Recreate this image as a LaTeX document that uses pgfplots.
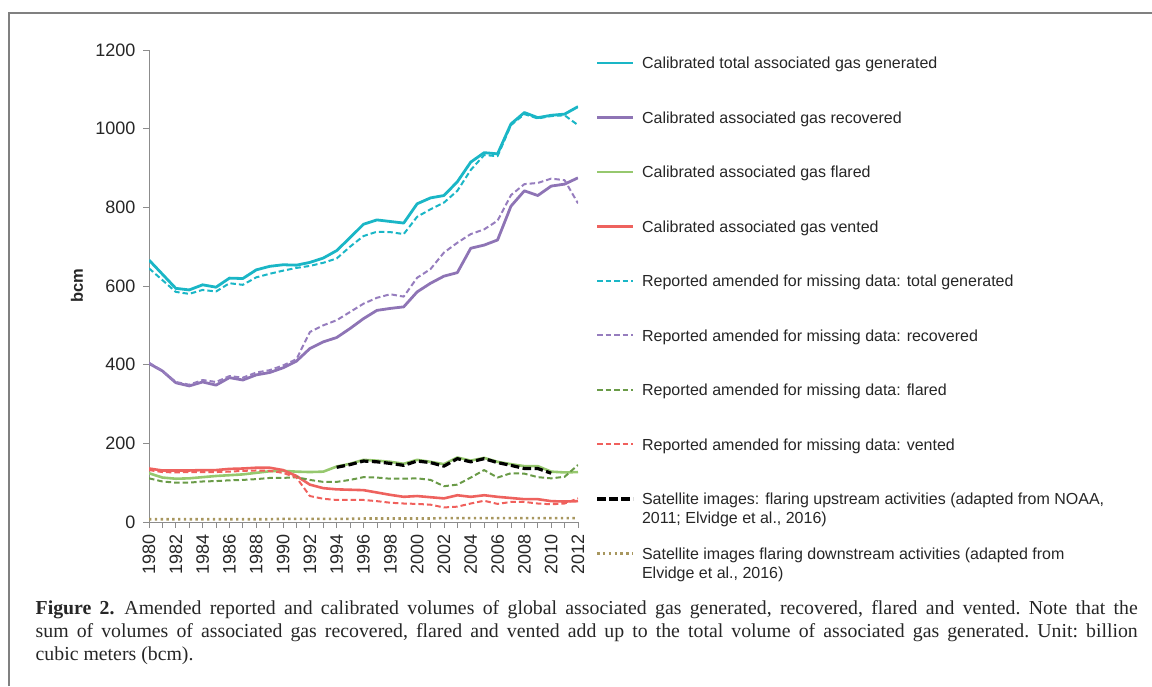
\documentclass[border=0pt]{standalone}
\usepackage{fontspec}
\setmainfont{Liberation Sans}
\newfontfamily\capfont{Liberation Serif}
\usepackage{pgfplots}
\usepackage{pgfplotstable}
\pgfplotsset{compat=1.18}

\definecolor{cyanc}{HTML}{1AB6C6}
\definecolor{purc}{HTML}{8E74B5}
\definecolor{grnc}{HTML}{96C86E}
\definecolor{redc}{HTML}{EE625E}
\definecolor{grnd}{HTML}{6A9B48}
\definecolor{redd}{HTML}{F0605C}
\definecolor{purd}{HTML}{967DBE}
\definecolor{olivec}{HTML}{A8975F}
\definecolor{axisgray}{HTML}{8C8C8C}
\definecolor{txt}{HTML}{262626}
\definecolor{framegray}{HTML}{808080}

\pgfplotstableread{
year total rtotal rec rrec fl rfl ve rve down
1980 666 645 403 405 124 111 136 132 7
1981 630 615 384 384 113 103 131 127 7
1982 594 585 354 356 110 100 131 126 7
1983 590 580 346 349 111 100 131 127 7
1984 603 590 356 361 114 103 132 127 7
1985 597 586 348 356 117 104 132 127 7
1986 620 607 367 371 119 106 135 128 7
1987 619 603 361 367 121 107 136 130 7
1988 641 622 374 380 125 109 138 131 7
1989 650 631 380 386 129 112 138 130 7
1990 654 639 392 398 130 112 132 125 8
1991 653 646 409 414 128 114 117 113 8
1992 660 651 441 483 127 107 95 66 8
1993 671 659 458 500 128 102 86 59 8
1994 690 670 469 513 141 102 83 56 8
1995 723 700 492 534 148 107 82 56 8
1996 757 727 517 555 158 114 81 56 9
1997 768 738 538 570 156 113 75 53 9
1998 764 737 543 579 153 110 69 49 9
1999 760 732 547 573 148 110 64 47 9
2000 809 776 585 621 158 111 66 46 9
2001 824 795 607 643 153 107 63 44 9
2002 830 812 625 685 147 91 60 37 10
2003 865 842 634 710 164 95 68 39 10
2004 915 895 696 732 156 113 64 47 10
2005 939 933 704 744 163 132 68 54 10
2006 936 930 717 766 153 113 64 46 10
2007 1012 1009 803 831 147 124 61 51 10
2008 1041 1037 842 859 142 123 58 51 10
2009 1028 1026 830 862 142 114 58 47 10
2010 1034 1032 854 873 128 111 53 45 10
2011 1037 1034 859 869 126 115 52 47 10
2012 1056 1009 875 810 127 145 53 60 10
}\maindata

\pgfplotstableread{
year sat
1994 139
1995 146
1996 155
1997 153
1998 149
1999 144
2000 155
2001 151
2002 142
2003 161
2004 153
2005 161
2006 151
2007 144
2008 136
2009 136
2010 124
}\satdata

\begin{document}
\begin{tikzpicture}
\useasboundingbox (0,0) rectangle (1152pt,686pt);
% frame
\draw[framegray, line width=2pt] (8.7pt,0pt) -- (8.7pt,673pt) -- (1152pt,673pt);

\begin{axis}[
  at={(149pt,164pt)}, anchor=south west,
  scale only axis, width=429pt, height=472pt,
  xmin=1980, xmax=2012, ymin=0, ymax=1200,
  axis x line*=bottom, axis y line*=left,
  axis line style={draw=axisgray, line width=0.8pt},
  xtick={1980,1982,...,2012},
  minor xtick={1981,1983,...,2011},
  ytick={0,200,...,1200},
  tick align=outside,
  major tick length=6pt, minor tick length=6pt,
  every tick/.style={axisgray, line width=0.8pt},
  minor tick style={axisgray, line width=0.8pt},
  /pgf/number format/assume math mode=true,
  /pgf/number format/1000 sep={},
  xticklabel shift=3pt,
  yticklabel shift=4pt,
  x tick label style={rotate=90, anchor=east, font=\fontsize{18}{18}\selectfont, text=txt},
  y tick label style={font=\fontsize{18}{18}\selectfont, text=txt},
  ylabel={bcm},
  ylabel style={at={(axis description cs:-0.1678,0.5)}, anchor=center, font=\fontsize{16.5}{16.5}\selectfont\bfseries, text=txt},
  line join=round,
  legend image code/.code={\draw[#1] (0pt,5.7pt) -- (36pt,5.7pt);},
  legend style={at={(1.0405,0.9864)}, anchor=north west, draw=none, fill=none,
    inner sep=0pt, row sep=42.5pt, column sep=7.3pt,
    font=\fontsize{16}{19}\selectfont, text=txt,
    cells={anchor=base west},
    nodes={inner sep=0pt, text height=12pt, text depth=0pt}},
]
\addplot[cyanc, line width=2.8pt] table[x=year,y=total]{\maindata};
\addlegendentry{Calibrated total associated gas generated}
\addplot[purc, line width=2.8pt] table[x=year,y=rec]{\maindata};
\addlegendentry{Calibrated associated gas recovered}
\addplot[grnc, line width=2.6pt] table[x=year,y=fl]{\maindata};
\addlegendentry{Calibrated associated gas flared}
\addplot[redc, line width=2.6pt] table[x=year,y=ve]{\maindata};
\addlegendentry{Calibrated associated gas vented}
\addplot[cyanc, line width=2pt, dash pattern=on 5.5pt off 3pt] table[x=year,y=rtotal]{\maindata};
\addlegendentry{Reported amended for missing data: total generated}
\addplot[purd, line width=2pt, dash pattern=on 5.5pt off 3pt] table[x=year,y=rrec]{\maindata};
\addlegendentry{Reported amended for missing data: recovered}
\addplot[grnd, line width=2pt, dash pattern=on 5.5pt off 3pt] table[x=year,y=rfl]{\maindata};
\addlegendentry{Reported amended for missing data: flared}
\addplot[redd, line width=2pt, dash pattern=on 5.5pt off 3pt] table[x=year,y=rve]{\maindata};
\addlegendentry{Reported amended for missing data: vented}
\addplot[black, line width=3.2pt, dash pattern=on 8.5pt off 3.5pt] table[x=year,y=sat]{\satdata};
\addlegendentry{\parbox[t]{520pt}{\fontsize{16}{19}\selectfont Satellite images: flaring upstream activities (adapted from NOAA,\\2011; Elvidge et al., 2016)}}
\addplot[olivec, line width=2.6pt, dash pattern=on 2.4pt off 3.4pt] table[x=year,y=down]{\maindata};
\addlegendentry{\parbox[t]{520pt}{\fontsize{16}{19}\selectfont Satellite images flaring downstream activities (adapted from\\Elvidge et al., 2016)}}
\end{axis}

% caption
\node[anchor=base west, inner sep=0pt, text=txt] at (35.5pt,71pt) {\parbox[t]{1102pt}{\capfont\fontsize{19.8}{22.6}\selectfont\frenchspacing
\makebox[1102pt][s]{\textbf{Figure 2.}\hspace{0.5em}Amended reported and calibrated volumes of global associated gas generated, recovered, flared and vented. Note that the}\\
\makebox[1102pt][s]{sum of volumes of associated gas recovered, flared and vented add up to the total volume of associated gas generated. Unit: billion}\\
cubic meters (bcm).}};
\end{tikzpicture}
\end{document}
